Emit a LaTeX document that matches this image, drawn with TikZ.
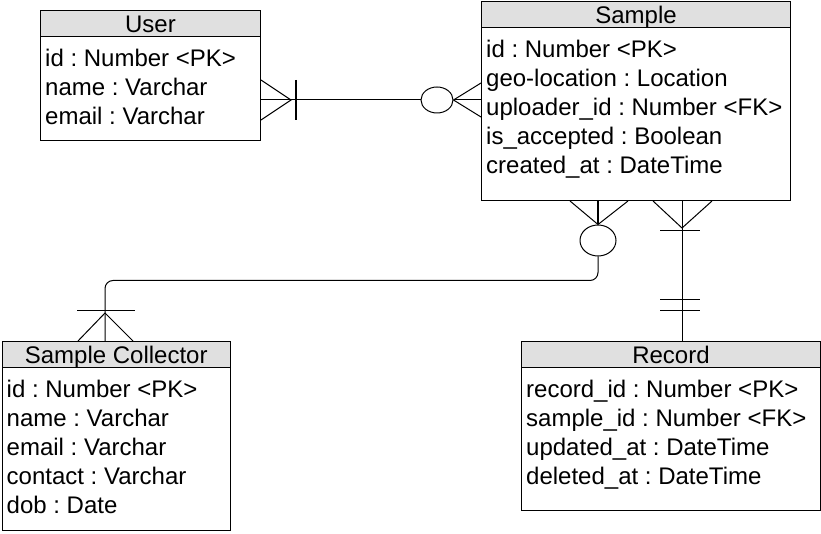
\documentclass[tikz,border=0pt]{standalone}
\usepackage{fontspec}
\setmainfont{Liberation Sans}
\usepackage{tikz}
\usetikzlibrary{positioning, calc, shapes.geometric}
\definecolor{headcol}{RGB}{224,224,224}
\frenchspacing

\begin{document}
\begin{tikzpicture}[
    x=1pt, y=-1pt,
    %% ── Entity styles ──
    entity/.style={rectangle, draw, line width=1pt, anchor=north west, inner sep=0pt},
    head/.style={rectangle, draw, line width=1pt, fill=headcol, anchor=north west,
        minimum height=26pt, inner sep=0pt, text height=22pt, text depth=4pt,
        font=\fontsize{24}{29}\selectfont\frenchspacing},
    attrs/.style={anchor=north west, align=left, inner xsep=5pt, inner ysep=12pt,
        font=\fontsize{24}{29}\selectfont\frenchspacing},
    %% ── Connector styles ──
    rel/.style={line width=1pt},
    bar/.style={line width=1.8pt},
    zero/.style={ellipse, draw, line width=1pt, fill=white, inner sep=0pt},
]
\useasboundingbox (0,0) rectangle (821,534);

% ── User ──
\node[entity, minimum width=220pt, minimum height=130pt] (user) at (40,10) {};
\node[head, minimum width=220pt] (userhead) at (user.north west) {User};
\node[attrs] (userattr) at (userhead.south west)
    {id : Number <PK>\\name : Varchar\\email : Varchar};

% ── Sample ──
\node[entity, minimum width=309pt, minimum height=199pt] (sample) at (481,1) {};
\node[head, minimum width=309pt] (samplehead) at (sample.north west) {Sample};
\node[attrs] (sampleattr) at (samplehead.south west)
    {id : Number <PK>\\geo-location : Location\\uploader\_id : Number <FK>\\
     is\_accepted : Boolean\\created\_at : DateTime};

% ── Sample Collector ──
\node[entity, minimum width=228.5pt, minimum height=189pt] (coll) at (1.5,341) {};
\node[head, minimum width=228.5pt] (collhead) at (coll.north west) {Sample Collector};
\node[attrs] (collattr) at (collhead.south west)
    {id : Number <PK>\\name : Varchar\\email : Varchar\\contact : Varchar\\dob : Date};

% ── Record ──
\node[entity, minimum width=299pt, minimum height=169pt] (record) at (521,341) {};
\node[head, minimum width=299pt] (recordhead) at (record.north west) {Record};
\node[attrs] (recordattr) at (recordhead.south west)
    {record\_id : Number <PK>\\sample\_id : Number <FK>\\updated\_at : DateTime\\
     deleted\_at : DateTime};

% User -- Sample
\node[zero, minimum width=32pt, minimum height=26pt] (zu) at (437,100) {};
\draw[rel] (zu.west) -- (zu.west -| user.east);
\coordinate (uft) at ($(zu.west -| user.east)+(30,0)$);
\draw[rel] ($(zu.west -| user.east)+(0,-20)$) -- (uft) -- ($(zu.west -| user.east)+(0,20)$);
\draw[bar] ($(uft)+(5,-20)$) -- ($(uft)+(5,20)$);
\draw[rel] (zu.east) -- (sample.west |- zu.east);
\draw[rel] ($(sample.west |- zu.east)+(0,-17)$) -- (zu.east) -- ($(sample.west |- zu.east)+(0,17)$);

% Sample -- Sample Collector
\node[zero, minimum width=36pt, minimum height=31pt] (zc) at (598,240.5) {};
\draw[bar] (zc.north) -- (zc.north |- sample.south);
\draw[rel] ($(zc.north |- sample.south)+(-28,0)$) -- (zc.north) -- ($(zc.north |- sample.south)+(30,0)$);
\coordinate (kc) at ($(coll.north west)+(103.5,0)$);
\draw[rel, rounded corners=8pt] (zc.south) -- ++(0,24) -| (kc);
\draw[rel] ($(kc)+(-27,0)$) -- ($(kc)+(0,-28)$) -- ($(kc)+(28,0)$);
\draw[rel] ($(kc)+(-28,-31)$) -- ($(kc)+(30,-31)$);

% Sample -- Record
\coordinate (kr) at ($(record.north west)+(161,0)$);
\draw[rel] (kr) -- (kr |- sample.south);
\draw[rel] ($(kr |- sample.south)+(-29,0)$) -- ($(kr |- sample.south)+(0,27)$) -- ($(kr |- sample.south)+(30,0)$);
\draw[rel] ($(kr |- sample.south)+(-22,30)$) -- ($(kr |- sample.south)+(18,30)$);
\draw[rel] ($(kr)+(-22,-41)$) -- ($(kr)+(18,-41)$);
\draw[rel] ($(kr)+(-22,-31)$) -- ($(kr)+(18,-31)$);

\end{tikzpicture}
\end{document}
